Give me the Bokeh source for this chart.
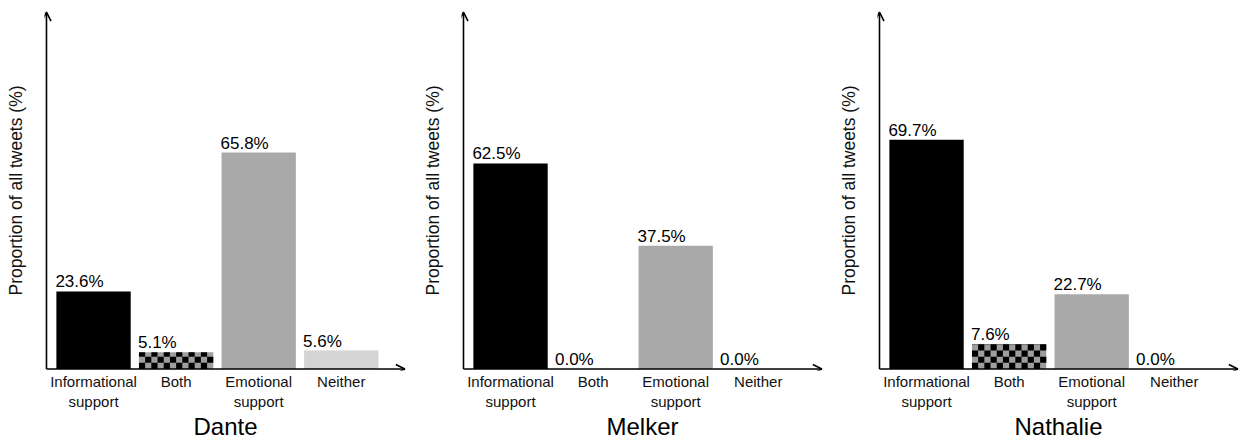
import math
from bokeh.plotting import figure
from bokeh.layouts import row
from bokeh.models import Arrow, OpenHead, FixedTicker, ColumnDataSource
from bokeh.core.properties import value
from bokeh.embed import file_html
from bokeh.resources import INLINE

# ---- data ----
categories = ["Informational support", "Both", "Emotional support", "Neither"]
tick_labels = ["Informational\nsupport", "Both", "Emotional\nsupport", "Neither"]
people = ["Dante", "Melker", "Nathalie"]
dante = [23.6, 5.1, 65.8, 5.6]
melker = [62.5, 0.0, 37.5, 0.0]
nathalie = [69.7, 7.6, 22.7, 0.0]
series = [dante, melker, nathalie]
y_label = "Proportion of all tweets (%)"

# ---- style ----
FONT = "Liberation Sans"
bar_colors = ["#000000", "#9e9e9e", "#a9a9a9", "#d4d4d4"]
checkered = [False, True, False, False]
BAR_W = 0.9
AX = -0.57          # position of the y axis in slot units
Y_TIP = 108.5
CHECK_COLS = 12
CHECK_H = 1.88      # height of one checker cell in % units


def checker_cells(xs, vals):
    """Black squares of a checkerboard covering the checkered bars."""
    left, right, bottom, top = [], [], [], []
    cw = BAR_W / CHECK_COLS
    for x, v, chk in zip(xs, vals, checkered):
        if not chk or v <= 0:
            continue
        x0 = x - BAR_W / 2
        rows = int(math.ceil(v / CHECK_H))
        for r in range(rows):
            b = r * CHECK_H
            t = min(v, b + CHECK_H)
            for c in range(CHECK_COLS):
                if (r + c) % 2 == 0:
                    left.append(x0 + c * cw)
                    right.append(x0 + (c + 1) * cw)
                    bottom.append(b)
                    top.append(t)
    return dict(left=left, right=right, bottom=bottom, top=top)


def make_panel(name, vals, width, border_right):
    xs = list(range(len(categories)))
    src = ColumnDataSource(dict(
        x=xs, top=vals, color=bar_colors,
        label=[f"{v:.1f}%" for v in vals],
        left=[x - BAR_W / 2 for x in xs]))
    p = figure(width=width, height=442,
               x_range=(AX - 0.024, AX + 4.36), y_range=(-0.45, 109),
               output_backend="svg", toolbar_location=None,
               min_border_left=44, min_border_right=border_right,
               min_border_top=10, min_border_bottom=71)
    p.xgrid.visible = False
    p.ygrid.visible = False
    p.outline_line_color = None

    p.vbar(x="x", top="top", bottom=0, width=BAR_W, source=src,
           fill_color="color", line_color=None)
    p.quad(left="left", right="right", bottom="bottom", top="top",
           source=ColumnDataSource(checker_cells(xs, vals)),
           fill_color="#000000", line_color=None)
    p.text(x="left", y="top", text="label", source=src,
           text_font=value(FONT), text_font_size="17px", text_color="#000000",
           text_align="left", text_baseline="bottom", x_offset=-1)

    # x axis
    xa = p.xaxis[0]
    xa.ticker = FixedTicker(ticks=xs)
    xa.major_label_overrides = {i: t for i, t in enumerate(tick_labels)}
    xa.major_tick_out = 0
    xa.major_tick_in = 0
    xa.minor_tick_out = 0
    xa.minor_tick_in = 0
    xa.axis_line_color = None
    xa.major_label_standoff = 2
    xa.major_label_text_font = FONT
    xa.major_label_text_font_size = "15px"
    xa.major_label_text_color = "#111111"
    xa.axis_label = name
    xa.axis_label_text_font = FONT
    xa.axis_label_text_font_size = "24px"
    xa.axis_label_text_font_style = "normal"
    xa.axis_label_text_color = "#000000"
    xa.axis_label_standoff = 0

    # y axis
    ya = p.yaxis[0]
    ya.ticker = FixedTicker(ticks=[])
    ya.major_tick_out = 0
    ya.major_tick_in = 0
    ya.minor_tick_out = 0
    ya.minor_tick_in = 0
    ya.axis_line_color = None
    ya.major_label_standoff = 0
    ya.axis_label = y_label
    ya.axis_label_text_font = FONT
    ya.axis_label_text_font_size = "17.5px"
    ya.axis_label_text_font_style = "normal"
    ya.axis_label_text_color = "#111111"
    ya.axis_label_standoff = 19

    # arrowed axes
    p.add_layout(Arrow(end=OpenHead(size=9, line_width=1.6, line_color="#000000"),
                       x_start=AX, y_start=0, x_end=AX + 4.34, y_end=0,
                       line_width=1.6, line_color="#000000"))
    p.add_layout(Arrow(end=OpenHead(size=9, line_width=1.6, line_color="#000000"),
                       x_start=AX, y_start=0, x_end=AX, y_end=Y_TIP,
                       line_width=1.6, line_color="#000000"))
    return p


widths = [417, 416, 406]
borders_right = [11, 10, 0]
panels = [make_panel(n, s, w, b) for n, s, w, b in zip(people, series, widths, borders_right)]
layout = row(*panels)

open("out.html", "w").write(file_html(layout, INLINE))
